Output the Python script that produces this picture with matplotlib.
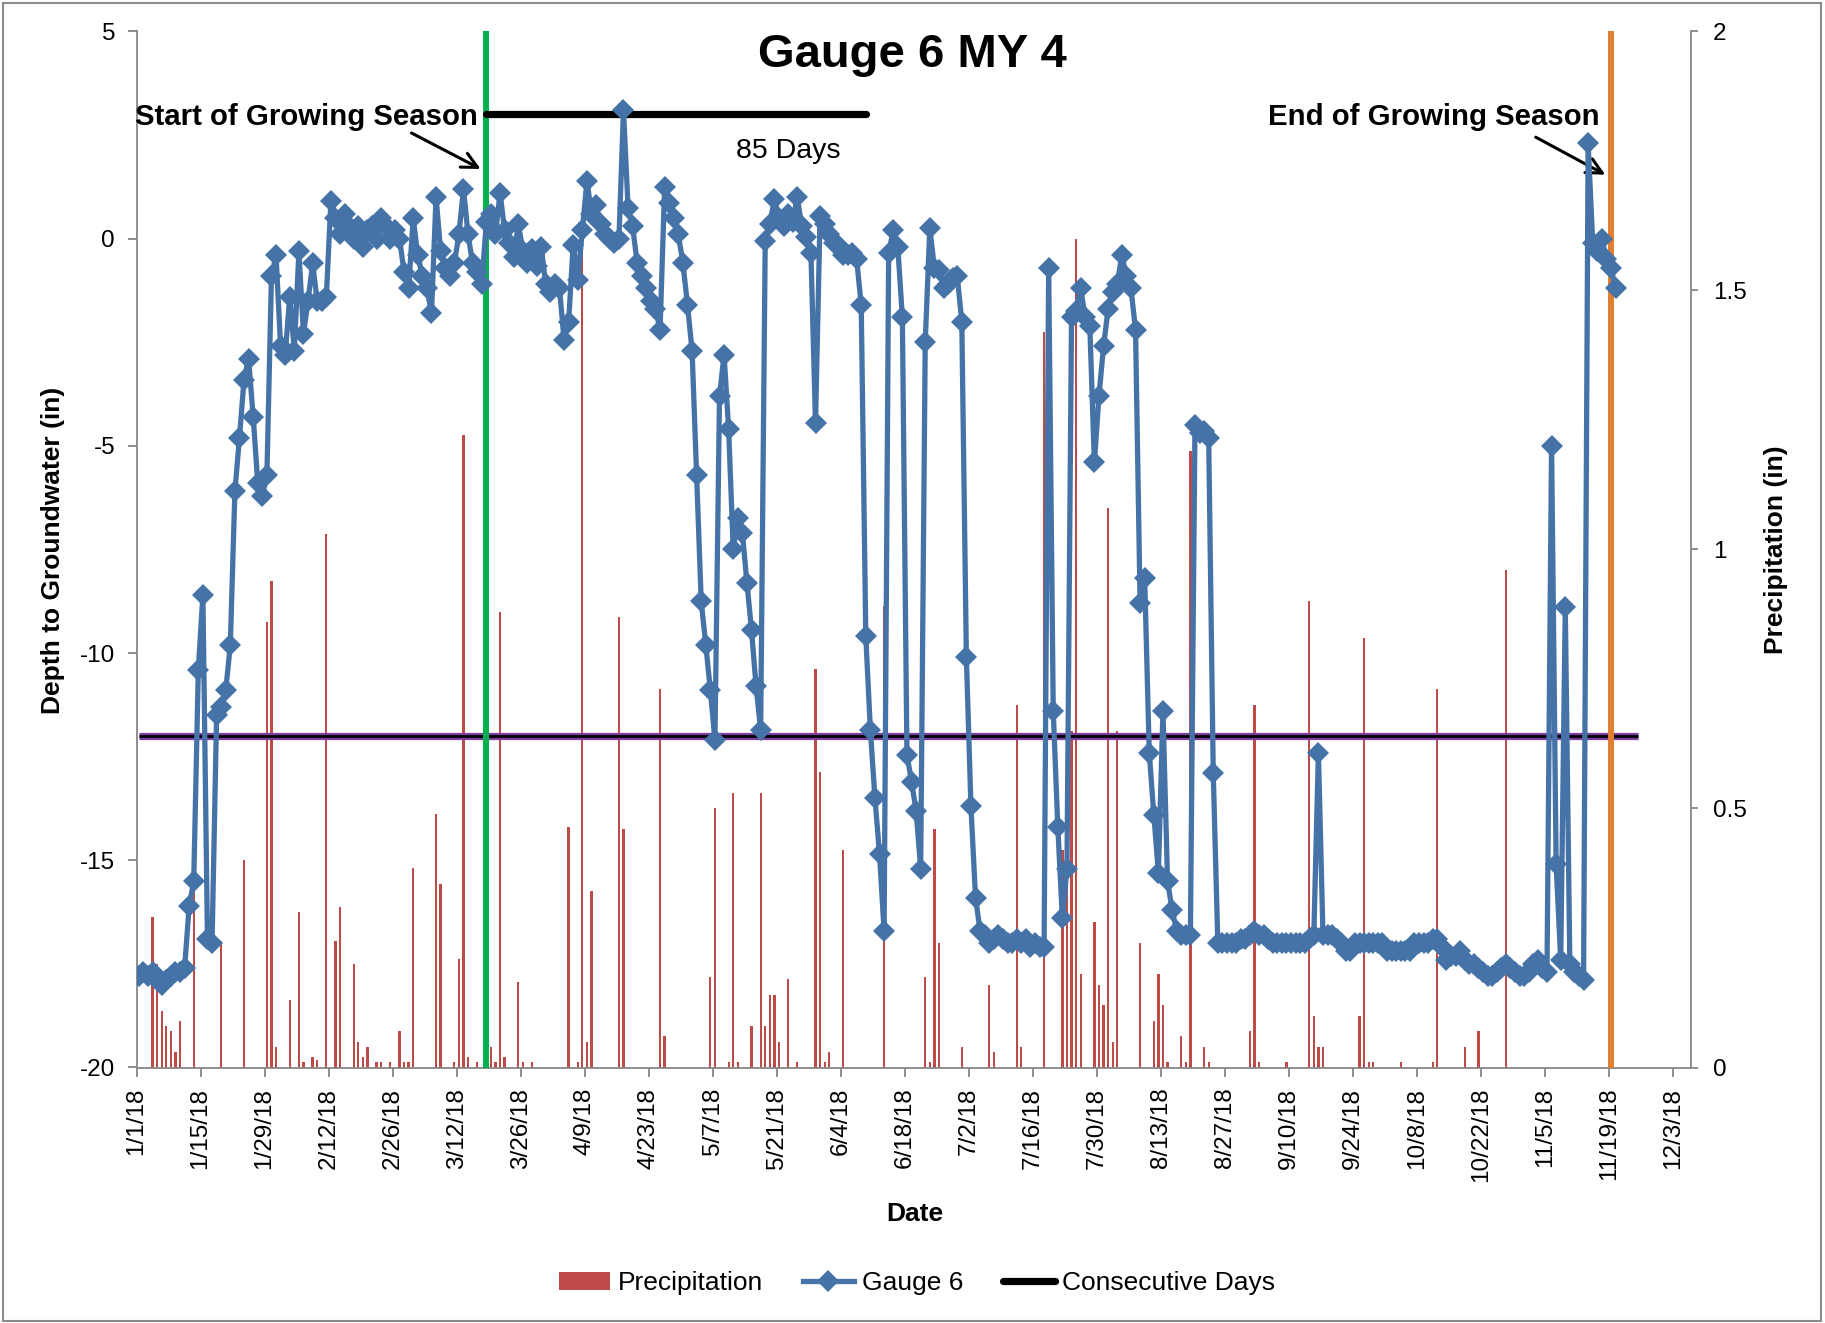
import matplotlib
matplotlib.use("Agg")
import matplotlib.pyplot as plt
import matplotlib.dates as mdates
import pandas as pd
from matplotlib.lines import Line2D
from matplotlib.patches import Patch, Rectangle

plt.rcParams['font.family'] = ['Liberation Sans', 'DejaVu Sans']
plt.rcParams['axes.unicode_minus'] = False

# daily depth to groundwater (in), starting 1/1/18
gauge_start = '2018-01-01'
gauge_depth = [
    -17.8, -17.7, -17.8, -17.7, -17.9, -18.0, -17.9, -17.8, -17.7, -17.7,
    -17.6, -16.1, -15.5, -10.4, -8.6, -16.9, -17.0, -11.5, -11.3, -10.9,
    -9.8, -6.1, -4.8, -3.4, -2.9, -4.3, -5.9, -6.2, -5.7, -0.9,
    -0.4, -2.6, -2.8, -1.4, -2.7, -0.3, -2.3, -1.5, -0.6, -1.5,
    -1.5, -1.4, 0.9, 0.5, 0.1, 0.6, 0.3, 0.0, 0.3, -0.2,
    0.2, 0.3, 0.0, 0.5, 0.3, 0.0, 0.2, 0.0, -0.8, -1.2,
    0.5, -0.4, -0.9, -1.2, -1.8, 1.0, -0.3, -0.7, -0.9, -0.6,
    0.1, 1.2, 0.1, -0.6, -0.8, -1.1, 0.4, 0.6, 0.1, 1.1,
    0.2, -0.1, -0.45, 0.35, -0.3, -0.6, -0.25, -0.67, -0.2, -1.1,
    -1.3, -1.1, -1.2, -2.45, -2.0, -0.15, -1.0, 0.2, 1.4, 0.6,
    0.8, 0.35, 0.1, 0.0, -0.1, 0.0, 3.1, 0.75, 0.3, -0.6,
    -0.9, -1.2, -1.5, -1.7, -2.2, 1.25, 0.85, 0.5, 0.1, -0.6,
    -1.6, -2.7, -5.7, -8.75, -9.8, -10.9, -12.1, -3.8, -2.8, -4.6,
    -7.5, -6.75, -7.1, -8.3, -9.45, -10.8, -11.85, -0.05, 0.35, 0.95,
    0.5, 0.3, 0.6, 0.4, 1.0, 0.3, 0.05, -0.35, -4.45, 0.55,
    0.35, 0.1, -0.1, -0.15, -0.4, -0.4, -0.35, -0.5, -1.6, -9.6,
    -11.85, -13.5, -14.85, -16.7, -0.35, 0.2, -0.2, -1.9, -12.45, -13.1,
    -13.8, -15.2, -2.5, 0.25, -0.7, -0.75, -1.2, -1.1, -0.95, -0.9,
    -2.0, -10.1, -13.7, -15.9, -16.7, -16.8, -17.0, -16.9, -16.8, -16.9,
    -17.0, -17.0, -16.9, -17.0, -16.9, -17.1, -17.0, -17.1, -17.1, -0.7,
    -11.4, -14.2, -16.4, -15.2, -1.9, -1.75, -1.2, -1.9, -2.1, -5.4,
    -3.8, -2.6, -1.7, -1.3, -1.1, -0.4, -0.9, -1.2, -2.2, -8.8,
    -8.2, -12.4, -13.9, -15.3, -11.4, -15.5, -16.2, -16.7, -16.8, -16.8,
    -16.8, -4.5, -4.7, -4.65, -4.8, -12.9, -17.0, -17.0, -17.0, -17.0,
    -17.0, -16.9, -16.9, -16.8, -16.7, -16.8, -16.8, -16.9, -17.0, -17.0,
    -17.0, -17.0, -17.0, -17.0, -17.0, -17.0, -16.9, -16.8, -12.4, -16.8,
    -16.8, -16.8, -16.9, -17.0, -17.2, -17.2, -17.0, -17.0, -17.0, -17.0,
    -17.0, -17.0, -17.0, -17.2, -17.2, -17.2, -17.2, -17.2, -17.2, -17.0,
    -17.0, -17.0, -17.0, -16.9, -16.9, -17.1, -17.4, -17.3, -17.3, -17.2,
    -17.4, -17.5, -17.5, -17.6, -17.7, -17.8, -17.8, -17.7, -17.6, -17.5,
    -17.6, -17.7, -17.8, -17.8, -17.7, -17.5, -17.4, -17.6, -17.7, -5.0,
    -15.1, -17.4, -8.9, -17.5, -17.7, -17.8, -17.9, 2.3, -0.1, -0.3,
    0.0, -0.5, -0.7, -1.2,
]

# daily precipitation (in), rainy days only
precip_dates = [
    '1/4', '1/5', '1/6', '1/7', '1/8', '1/9', '1/10', '1/13', '1/19', '1/24',
    '1/29', '1/30', '1/31', '2/3', '2/5', '2/6', '2/8', '2/9', '2/11', '2/13',
    '2/14', '2/17', '2/18', '2/19', '2/20', '2/22', '2/23', '2/25', '2/27', '2/28',
    '3/1', '3/2', '3/7', '3/8', '3/11', '3/12', '3/13', '3/14', '3/16', '3/19',
    '3/20', '3/21', '3/22', '3/25', '3/26', '3/28', '4/5', '4/7', '4/8', '4/9',
    '4/10', '4/16', '4/17', '4/25', '4/26', '5/6', '5/7', '5/10', '5/11', '5/12',
    '5/15', '5/17', '5/18', '5/19', '5/20', '5/21', '5/23', '5/25', '5/29', '5/30',
    '5/31', '6/1', '6/4', '6/13', '6/22', '6/23', '6/24', '6/25', '6/30', '7/6',
    '7/7', '7/12', '7/13', '7/18', '7/22', '7/23', '7/24', '7/25', '7/26', '7/29',
    '7/30', '7/31', '8/1', '8/2', '8/3', '8/8', '8/11', '8/12', '8/13', '8/14',
    '8/17', '8/18', '8/19', '8/22', '8/23', '9/1', '9/2', '9/3', '9/9', '9/14',
    '9/15', '9/16', '9/17', '9/25', '9/26', '9/27', '9/28', '10/4', '10/11', '10/12',
    '10/18', '10/21', '10/27',
]
precip_in = [
    0.29, 0.20, 0.11, 0.08, 0.07, 0.03, 0.09, 0.35, 0.245, 0.40,
    0.86, 0.94, 0.04, 0.13, 0.30, 0.01, 0.02, 0.015, 1.03, 0.245,
    0.31, 0.20, 0.05, 0.02, 0.04, 0.01, 0.01, 0.01, 0.07, 0.01,
    0.01, 0.385, 0.49, 0.355, 0.01, 0.21, 1.22, 0.02, 0.01, 0.04,
    0.01, 0.88, 0.02, 0.165, 0.01, 0.01, 0.465, 0.01, 1.57, 0.05,
    0.34, 0.87, 0.46, 0.73, 0.06, 0.175, 0.50, 0.01, 0.53, 0.01,
    0.08, 0.53, 0.08, 0.14, 0.14, 0.05, 0.17, 0.01, 0.77, 0.57,
    0.01, 0.03, 0.42, 0.89, 0.175, 0.01, 0.46, 0.24, 0.04, 0.16,
    0.03, 0.70, 0.04, 1.42, 0.42, 0.39, 0.65, 1.60, 0.18, 0.28,
    0.16, 0.12, 1.08, 0.05, 0.65, 0.24, 0.09, 0.18, 0.12, 0.01,
    0.06, 0.01, 1.19, 0.04, 0.01, 0.07, 0.70, 0.01, 0.01, 0.90,
    0.10, 0.04, 0.04, 0.10, 0.83, 0.01, 0.01, 0.01, 0.01, 0.73,
    0.04, 0.07, 0.96,
]

season_start = '2018-03-18'
season_end = '2018-11-19'
consec_end = '2018-06-09'
consec_level = 3.0
consec_label = '85 Days'
threshold = -12.0
threshold_end = '2018-11-25'

noon = pd.Timedelta(hours=12)
gauge_x = pd.date_range(gauge_start, periods=len(gauge_depth), freq='D') + noon
precip_x = pd.to_datetime([d + '/2018' for d in precip_dates], format='%m/%d/%Y') + noon
start_x = pd.Timestamp(season_start) + noon
end_x = pd.Timestamp(season_end) + noon
consec_x = [start_x, pd.Timestamp(consec_end) + noon]

blue = '#4572A7'
red = '#BE4B48'
grey = '#868686'

W, H = 1825, 1323
fig = plt.figure(figsize=(W / 100, H / 100), dpi=100)
ax = fig.add_axes([136.6 / W, 1 - 1067.5 / H, (1691 - 136.6) / W, (1067.5 - 31.4) / H])
ax2 = ax.twinx()
ax.set_zorder(ax2.get_zorder() + 1)
ax.patch.set_visible(False)

# precipitation on secondary axis
ax2.bar(precip_x, precip_in, width=0.5, color=red, linewidth=0)
ax2.set_ylim(0, 2)
ax2.set_yticks([0, 0.5, 1, 1.5, 2])
ax2.set_yticklabels(['0', '0.5', '1', '1.5', '2'])

# threshold, season markers, consecutive days, gauge
ax.plot([gauge_x[0], pd.Timestamp(threshold_end) + noon], [threshold, threshold],
        color='#7B3FA0', lw=5.2, solid_capstyle='butt', zorder=2)
ax.plot([gauge_x[0], pd.Timestamp(threshold_end) + noon], [threshold, threshold],
        color='black', lw=2.0, solid_capstyle='butt', zorder=2.1)
ax.axvline(start_x, color='#00B04F', lw=4.3, zorder=3)
ax.axvline(end_x, color='#E07F32', lw=4.3, zorder=3)
ax.plot(consec_x, [consec_level, consec_level], color='black', lw=5.2,
        solid_capstyle='round', zorder=4)
ax.plot(gauge_x, gauge_depth, color=blue, lw=3.8, marker='D', ms=11,
        markeredgecolor=blue, markeredgewidth=0, zorder=5)

ax.set_ylim(-20, 5)
ax.set_yticks([-20, -15, -10, -5, 0, 5])
ax.set_xlim(pd.Timestamp('2018-01-01'), pd.Timestamp('2018-12-07'))
ax.set_xticks(pd.date_range('2018-01-01', '2018-12-03', freq='14D'))
ax.xaxis.set_major_formatter(plt.FuncFormatter(
    lambda v, p: '{d.month}/{d.day}/{y}'.format(d=mdates.num2date(v), y=mdates.num2date(v).year % 100)))
for lab in ax.get_xticklabels():
    lab.set_rotation(90)

for a in (ax, ax2):
    for s in a.spines.values():
        s.set_color(grey)
        s.set_linewidth(1.3)
    a.spines['top'].set_visible(False)
ax.spines['right'].set_visible(False)
ax2.spines['left'].set_visible(False)
ax2.spines['bottom'].set_visible(False)
ax.tick_params(axis='both', direction='out', length=6.5, width=1.3, color=grey,
               labelsize=17.5, pad=9)
ax.tick_params(axis='x', pad=8)
ax2.tick_params(axis='y', direction='out', length=5, width=1.3, color=grey,
                labelsize=17.5, pad=11)

# annotations
ax.text(pd.Timestamp('2018-03-16 17:00'), 2.74, 'Start of Growing Season', ha='right',
        va='baseline', fontsize=21.2, fontweight='bold')
ax.annotate('', xy=(pd.Timestamp('2018-03-17 19:00'), 1.65),
            xytext=(pd.Timestamp('2018-03-01 14:00'), 2.58),
            arrowprops=dict(arrowstyle='->', lw=2.2, color='black', mutation_scale=28))
ax.text(pd.Timestamp('2018-11-16 22:00'), 2.74, 'End of Growing Season', ha='right',
        va='baseline', fontsize=21.2, fontweight='bold')
ax.annotate('', xy=(pd.Timestamp('2018-11-18 19:00'), 1.51),
            xytext=(pd.Timestamp('2018-11-02 12:00'), 2.48),
            arrowprops=dict(arrowstyle='->', lw=2.2, color='black', mutation_scale=28))
ax.text(pd.Timestamp('2018-05-23 12:00'), 1.95, consec_label, ha='center',
        va='baseline', fontsize=20.5)

fig.text(0.5, 1 - 66.7 / H, 'Gauge 6 MY 4', ha='center', va='baseline',
         fontsize=34, fontweight='bold')
fig.text(915 / W, 1 - 1220.7 / H, 'Date', ha='center', va='baseline',
         fontsize=19, fontweight='bold')
fig.text(53.5 / W, 1 - 550 / H, 'Depth to Groundwater (in)', rotation=90,
         ha='center', va='center', fontsize=19, fontweight='bold')
fig.text(1776 / W, 1 - 550 / H, 'Precipitation (in)', rotation=90,
         ha='center', va='center', fontsize=19, fontweight='bold')

handles = [
    Patch(facecolor=red, edgecolor='none'),
    Line2D([], [], color=blue, lw=3.8, marker='D', ms=11, markeredgewidth=0),
    Line2D([], [], color='black', lw=5.2, solid_capstyle='round'),
]
fig.legend(handles, ['Precipitation', 'Gauge 6', 'Consecutive Days'], loc='center',
           bbox_to_anchor=(917 / W, 1 - 1283 / H), ncol=3, frameon=False,
           fontsize=19, handlelength=1.95, handletextpad=0.3, columnspacing=1.5)

fig.patches.append(Rectangle((3 / W, 2 / H), (W - 7) / W, (H - 5) / H,
                             transform=fig.transFigure, fill=False,
                             edgecolor='#8C8C8C', lw=1.5))

fig.savefig('out.png', dpi=100)
